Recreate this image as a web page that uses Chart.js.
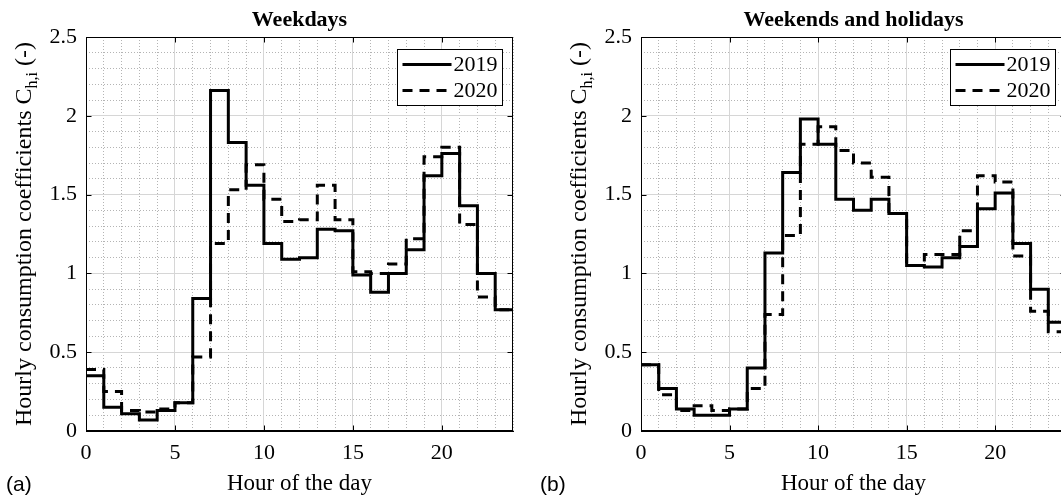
<!DOCTYPE html>
<html>
<head>
<meta charset="utf-8">
<script src="https://cdn.jsdelivr.net/npm/chart.js@4.4.0/dist/chart.umd.min.js"></script>
<style>
  html, body { margin: 0; padding: 0; background: #fff; overflow: hidden; width: 1061px; height: 498px; }
  .panel { position: absolute; top: 0; height: 498px; }
  #wrapA { left: 0; width: 530px; }
  #wrapB { left: 530px; width: 540px; }
</style>
</head>
<body>
<div class="panel" id="wrapA"><canvas id="chartA" width="530" height="498"></canvas></div>
<div class="panel" id="wrapB"><canvas id="chartB" width="540" height="498"></canvas></div>
<script>
// hour of the day (start of each step)
const hours = [0, 1, 2, 3, 4, 5, 6, 7, 8, 9, 10, 11, 12, 13, 14, 15, 16, 17, 18, 19, 20, 21, 22, 23];

// weekdays
const weekdays2019 = [0.35, 0.15, 0.11, 0.07, 0.13, 0.18, 0.84, 2.16, 1.83, 1.56, 1.19, 1.09,
                      1.10, 1.28, 1.27, 0.99, 0.88, 1.00, 1.15, 1.62, 1.76, 1.43, 1.00, 0.77];
const weekdays2020 = [0.39, 0.25, 0.13, 0.12, 0.14, 0.18, 0.47, 1.19, 1.53, 1.69, 1.47, 1.33,
                      1.34, 1.56, 1.34, 1.01, 1.00, 1.06, 1.22, 1.74, 1.80, 1.31, 0.85, 0.77];

// weekends and holidays
const weekends2019 = [0.42, 0.27, 0.14, 0.10, 0.10, 0.14, 0.40, 1.13, 1.64, 1.98, 1.82, 1.47,
                      1.40, 1.47, 1.38, 1.05, 1.04, 1.10, 1.17, 1.41, 1.51, 1.19, 0.90, 0.69];
const weekends2020 = [0.42, 0.23, 0.13, 0.16, 0.13, 0.14, 0.27, 0.74, 1.24, 1.82, 1.93, 1.78,
                      1.70, 1.61, 1.38, 1.05, 1.12, 1.12, 1.27, 1.62, 1.58, 1.11, 0.76, 0.63];

const seriesLabels = ['2019', '2020'];
const xTicks = [0, 5, 10, 15, 20];
const yTicks = [0, 0.5, 1, 1.5, 2, 2.5];

const SERIF = '"Liberation Serif", "Times New Roman", serif';

// each value holds for one hour, so repeat the last one at the end of the day
function toSteps(values) {
    const pts = hours.map((h, i) => ({ x: h, y: values[i] }));
    pts.push({ x: hours[hours.length - 1] + 1, y: values[values.length - 1] });
    return pts;
}

const decorPlugin = {
    id: 'decor',
    afterDatasetsDraw(chart, args, opts) {
        const ctx = chart.ctx;
        const { left, right, top, bottom } = chart.chartArea;
        const xs = chart.scales.x, ys = chart.scales.y;
        ctx.save();

        // box + inward ticks
        ctx.strokeStyle = '#000';
        ctx.lineWidth = 1;
        const L = Math.round(left) + 0.5, R = Math.round(right) - 0.5;
        const T = Math.round(top) + 0.5, B = Math.round(bottom) - 0.5;
        ctx.strokeRect(L, T, R - L, B - T);
        ctx.beginPath();
        xs.ticks.forEach(t => {
            const px = Math.round(xs.getPixelForValue(t.value)) + 0.5;
            ctx.moveTo(px, B); ctx.lineTo(px, B - 5);
            ctx.moveTo(px, T); ctx.lineTo(px, T + 5);
        });
        ys.ticks.forEach(t => {
            const py = Math.round(ys.getPixelForValue(t.value)) + 0.5;
            ctx.moveTo(L, py); ctx.lineTo(L + 5, py);
            ctx.moveTo(R, py); ctx.lineTo(R - 5, py);
        });
        ctx.stroke();

        // legend box
        const bw = 105, bh = 56;
        const bx = Math.round(right - 11 - bw) + 0.5, by = Math.round(top + 12) + 0.5;
        ctx.fillStyle = '#fff';
        ctx.fillRect(bx, by, bw, bh);
        ctx.strokeRect(bx, by, bw, bh);
        chart.data.datasets.forEach((ds, i) => {
            const cy = by + 15 + i * 26;
            ctx.save();
            ctx.strokeStyle = ds.borderColor;
            ctx.lineWidth = ds.borderWidth;
            ctx.setLineDash(ds.borderDash || []);
            ctx.beginPath();
            ctx.moveTo(bx + 5, cy);
            ctx.lineTo(bx + 54, cy);
            ctx.stroke();
            ctx.restore();
            ctx.fillStyle = '#000';
            ctx.font = '22px ' + SERIF;
            ctx.textBaseline = 'middle';
            ctx.textAlign = 'left';
            ctx.fillText(ds.label, bx + 56, cy + 1);
        });

        // y axis title with subscript
        ctx.save();
        ctx.translate(left - 55, (top + bottom) / 2);
        ctx.rotate(-Math.PI / 2);
        const main = '24px ' + SERIF, sub = '16px ' + SERIF;
        const parts = [['Hourly consumption coefficients C', main, 0], ['h,i', sub, 6], [' (-)', main, 0]];
        let total = 0;
        parts.forEach(p => { ctx.font = p[1]; p.push(ctx.measureText(p[0]).width); total += p[3]; });
        let cx = -total / 2;
        ctx.fillStyle = '#000';
        ctx.textBaseline = 'alphabetic';
        ctx.textAlign = 'left';
        parts.forEach(p => { ctx.font = p[1]; ctx.fillText(p[0], cx, p[2]); cx += p[3]; });
        ctx.restore();

        // panel letter
        ctx.fillStyle = '#000';
        ctx.font = '21px "Liberation Sans", Arial, sans-serif';
        ctx.textBaseline = 'alphabetic';
        ctx.textAlign = 'left';
        ctx.fillText(opts.letter, opts.letterX, 491);
        ctx.restore();
    }
};

function makeChart(canvasId, title, letter, letterX, padL, padR, data2019, data2020) {
    const ctx = document.getElementById(canvasId).getContext('2d');
    return new Chart(ctx, {
        type: 'line',
        data: {
            datasets: [
                {
                    label: seriesLabels[0],
                    data: toSteps(data2019),
                    borderColor: '#000',
                    borderWidth: 3,
                    borderDash: [],
                    stepped: true,
                    pointRadius: 0,
                    fill: false,
                    borderJoinStyle: 'miter',
                    borderCapStyle: 'butt'
                },
                {
                    label: seriesLabels[1],
                    data: toSteps(data2020),
                    borderColor: '#000',
                    borderWidth: 3,
                    borderDash: [10, 7],
                    stepped: true,
                    pointRadius: 0,
                    fill: false,
                    borderJoinStyle: 'miter',
                    borderCapStyle: 'butt'
                }
            ]
        },
        options: {
            responsive: false,
            animation: false,
            devicePixelRatio: 1,
            layout: { padding: { left: padL, right: padR, top: 0, bottom: 0 } },
            plugins: {
                legend: { display: false },
                tooltip: { enabled: false },
                title: {
                    display: true,
                    text: title,
                    fullSize: false,
                    color: '#000',
                    font: { family: SERIF, size: 22, weight: 'bold' },
                    padding: { top: 7, bottom: 3.6 }
                },
                decor: { letter: letter, letterX: letterX }
            },
            scales: {
                xm: {
                    type: 'linear', position: 'bottom', min: 0, max: 24,
                    ticks: { display: false, stepSize: 1 },
                    grid: { color: '#b4b4b4', lineWidth: 1, drawTicks: false, z: -2 },
                    border: { display: false, dash: [1, 2] },
                    afterFit: s => { s.height = 0; }
                },
                ym: {
                    type: 'linear', position: 'left', min: 0, max: 2.5,
                    ticks: { display: false, stepSize: 0.1 },
                    grid: { color: '#b4b4b4', lineWidth: 1, drawTicks: false, z: -2 },
                    border: { display: false, dash: [1, 2] },
                    afterFit: s => { s.width = 0; }
                },
                x: {
                    type: 'linear', position: 'bottom', min: 0, max: 24,
                    afterBuildTicks: s => { s.ticks = xTicks.map(v => ({ value: v })); },
                    ticks: { color: '#000', font: { family: SERIF, size: 22 }, padding: 9, maxRotation: 0,
                             callback: v => String(v) },
                    grid: { color: '#d6d6d6', lineWidth: 1, drawTicks: false, z: -1 },
                    border: { color: '#000', width: 1 },
                    title: {
                        display: true, text: 'Hour of the day', color: '#000',
                        font: { family: SERIF, size: 23 }, padding: 0
                    },
                    afterFit: s => { s.height = 67; }
                },
                y: {
                    type: 'linear', position: 'left', min: 0, max: 2.5,
                    afterBuildTicks: s => { s.ticks = yTicks.map(v => ({ value: v })); },
                    ticks: { color: '#000', font: { family: SERIF, size: 22 }, padding: 9,
                             callback: v => String(v) },
                    grid: { color: '#d6d6d6', lineWidth: 1, drawTicks: false, z: -1 },
                    border: { color: '#000', width: 1 },
                    afterFit: s => { s.width = 86; }
                }
            }
        },
        plugins: [decorPlugin]
    });
}

makeChart('chartA', 'Weekdays', '(a)', 6, 0, 17, weekdays2019, weekdays2020);
makeChart('chartB', 'Weekends and holidays', '(b)', 10, 25, 4, weekends2019, weekends2020);
</script>
</body>
</html>
